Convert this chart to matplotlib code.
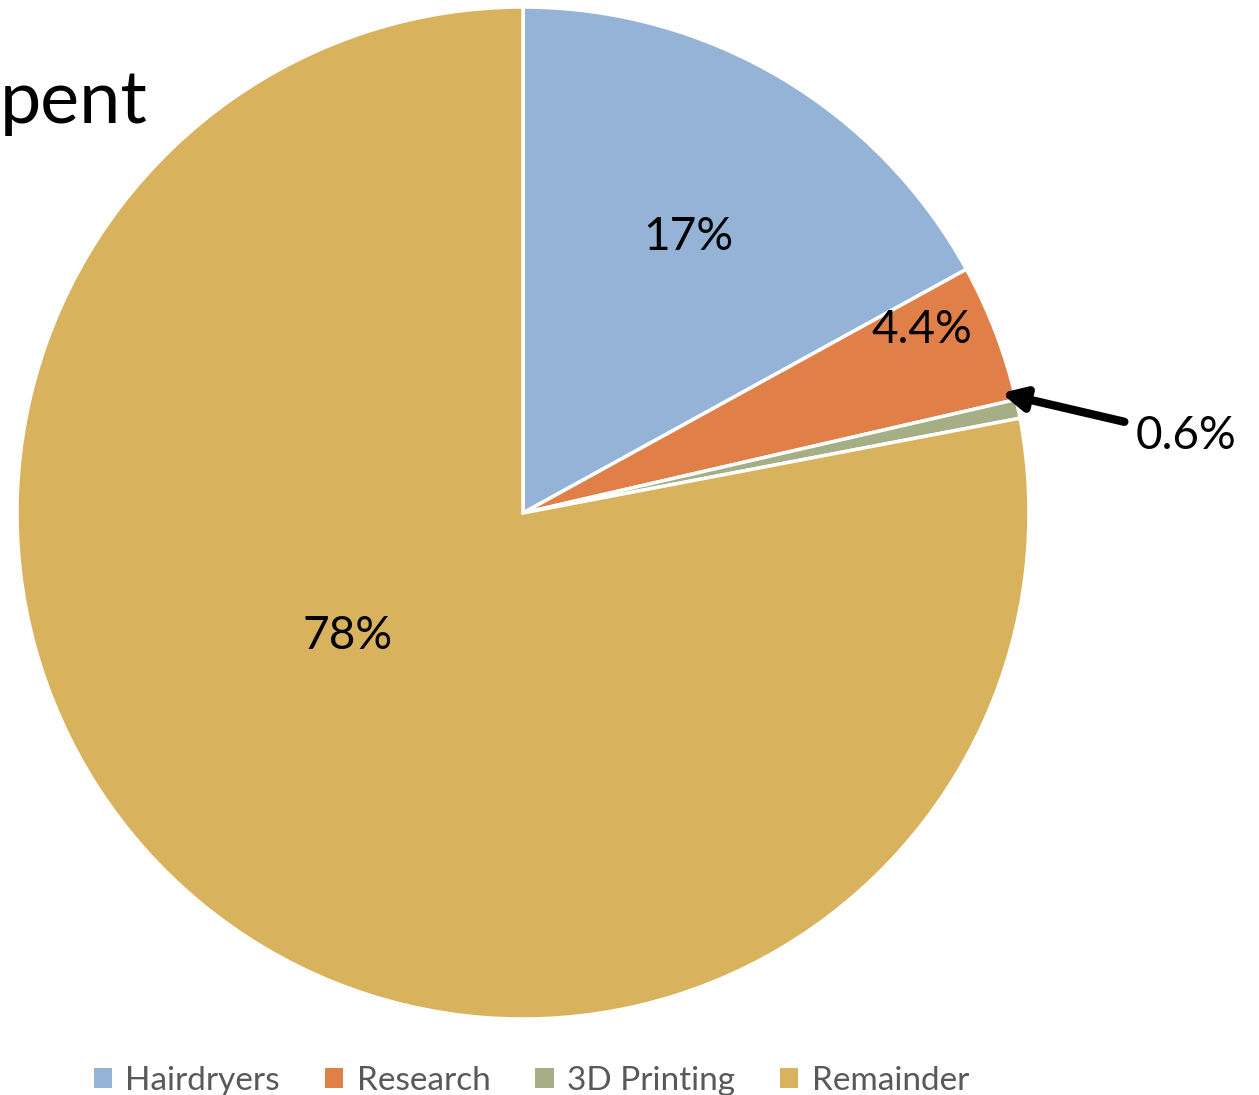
import matplotlib.pyplot as plt
from matplotlib.patches import Patch

plt.rcParams['font.family'] = ['Lato', 'DejaVu Sans']

# spending breakdown (percent)
categories = ['Hairdryers', 'Research', '3D Printing', 'Remainder']
shares = [17, 4.4, 0.6, 78]
labels = ['17%', '4.4%', '0.6%', '78%']
colors = ['#95B3D7', '#E07F48', '#A5AE84', '#D8B25C']

fig = plt.figure(figsize=(12.59, 10.95), dpi=100)
ax = fig.add_axes([0.0135, 0.0694, 0.8038, 0.9242])

wedges, _ = ax.pie(shares, colors=colors, startangle=90, counterclock=False,
                   radius=1.0, wedgeprops=dict(edgecolor='white', linewidth=2.5))
ax.set_xlim(-1, 1)
ax.set_ylim(-1, 1)
ax.set_aspect('auto')
ax.axis('off')

# in-slice labels
ax.text(0.326, 0.545, labels[0], ha='center', va='center', fontsize=33)
ax.text(0.789, 0.362, labels[1], ha='center', va='center', fontsize=33)
ax.text(-0.346, -0.243, labels[3], ha='center', va='center', fontsize=33)

# small slice gets an arrow
ax.annotate(labels[2], xy=(0.945, 0.237), xytext=(1.21, 0.152),
            ha='left', va='center', fontsize=33, annotation_clip=False,
            arrowprops=dict(arrowstyle='-|>', color='black', lw=6,
                            mutation_scale=34, shrinkA=6, shrinkB=0))

fig.text(0.0, 0.888, 'pent', fontsize=53, ha='left', va='baseline')

handles = [Patch(facecolor=c, edgecolor='none') for c in colors]
fig.legend(handles, categories, loc='lower center', bbox_to_anchor=(0.422, -0.028),
           ncol=4, frameon=False, fontsize=24, labelcolor='#595959',
           handlelength=0.55, handleheight=0.55, handletextpad=0.4, columnspacing=1.35)

fig.savefig('out.png', dpi=100)
